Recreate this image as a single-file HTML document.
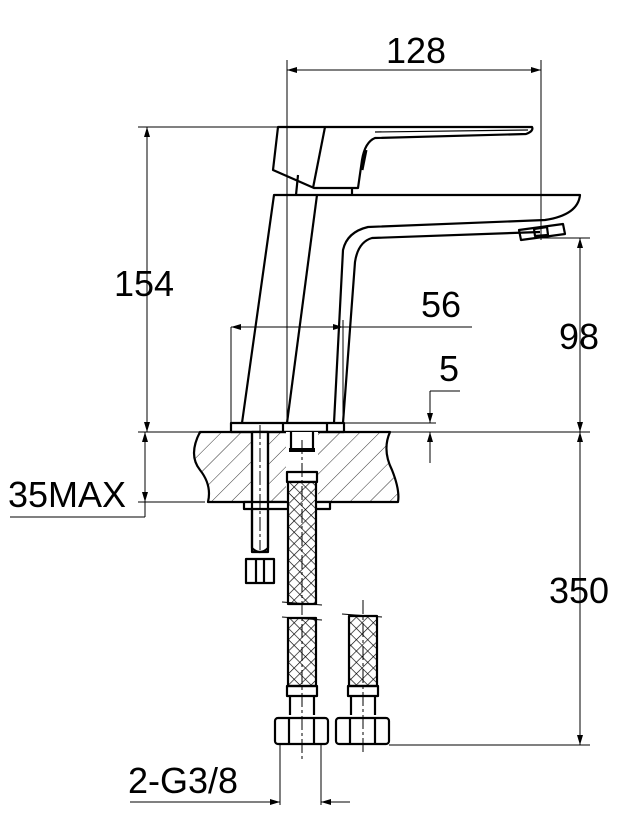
<!DOCTYPE html>
<html><head><meta charset="utf-8"><style>html,body{margin:0;padding:0;background:#fff}svg{display:block}</style></head>
<body>
<svg width="636" height="837" viewBox="0 0 636 837" xmlns="http://www.w3.org/2000/svg">
<defs>
<pattern id="h" width="14" height="14" patternUnits="userSpaceOnUse" patternTransform="rotate(45)">
<line x1="0" y1="0" x2="0" y2="14" stroke="#000" stroke-width="0.8"/></pattern>
<pattern id="x" width="8" height="8" patternUnits="userSpaceOnUse" patternTransform="rotate(45)">
<rect width="8" height="8" fill="#fff"/><line x1="0" y1="0" x2="0" y2="8" stroke="#000" stroke-width="1.3"/><line x1="0" y1="0" x2="8" y2="0" stroke="#000" stroke-width="1.3"/></pattern>
<marker id="a" viewBox="0 0 10 6" refX="10" refY="3" markerWidth="10" markerHeight="6" orient="auto-start-reverse" markerUnits="userSpaceOnUse"><path d="M0 0L10 3L0 6z" fill="#000"/></marker>
</defs>
<g fill="none" stroke="#000" stroke-width="1">
<line x1="287" y1="60" x2="287" y2="423"/><line x1="541" y1="60" x2="541" y2="240"/>
<line x1="287" y1="70" x2="541" y2="70" marker-start="url(#a)" marker-end="url(#a)"/>
<line x1="138" y1="127" x2="278" y2="127"/>
<line x1="147" y1="127" x2="147" y2="432" marker-start="url(#a)" marker-end="url(#a)"/>
<line x1="138" y1="432" x2="200" y2="432"/><line x1="138" y1="502" x2="205" y2="502"/>
<line x1="145" y1="432" x2="145" y2="517"/><line x1="145" y1="450" x2="145" y2="432" marker-end="url(#a)"/><line x1="145" y1="485" x2="145" y2="502" marker-end="url(#a)"/>
<line x1="10" y1="517" x2="145" y2="517"/>
<line x1="231" y1="327" x2="231" y2="423"/><line x1="343" y1="320" x2="343" y2="423"/>
<line x1="231" y1="327" x2="472" y2="327"/><line x1="250" y1="327" x2="231" y2="327" marker-end="url(#a)"/><line x1="325" y1="327" x2="343" y2="327" marker-end="url(#a)"/>
<line x1="344" y1="423" x2="436" y2="423"/>
<line x1="430" y1="391" x2="460" y2="391"/><line x1="430" y1="391" x2="430" y2="423" marker-end="url(#a)"/><line x1="430" y1="463" x2="430" y2="432" marker-end="url(#a)"/>
<line x1="390" y1="432" x2="590" y2="432"/>
<line x1="541" y1="238" x2="590" y2="238"/>
<line x1="580" y1="238" x2="580" y2="432" marker-start="url(#a)" marker-end="url(#a)"/>
<line x1="580" y1="432" x2="580" y2="745" marker-start="url(#a)" marker-end="url(#a)"/>
<line x1="389" y1="745" x2="590" y2="745"/>
<line x1="280" y1="745" x2="280" y2="805"/><line x1="321" y1="745" x2="321" y2="805"/>
<line x1="130" y1="802" x2="280" y2="802"/><line x1="260" y1="802" x2="280" y2="802" marker-end="url(#a)"/><line x1="350" y1="802" x2="321" y2="802" marker-end="url(#a)"/>
</g>
<g fill="none" stroke="#000" stroke-width="2.2" stroke-linejoin="round">
<path d="M278 127L532 127Q534 131 526 134L375 138Q365 142 362 160L358 188L314 188L273 170Z"/>
<path d="M325 127L313 188"/><path d="M298 175L296 195M352 188L352 195"/>
<path d="M375 132L528 130" stroke-width="1.2"/>
<path d="M366 150L362 170" stroke-width="3"/>
<path d="M242 423L274 195L580 195Q578 215 545 220L368 227Q347 232 343 250L334 423"/>
<path d="M317 195L287 423"/>
<path d="M540 232L372 238Q358 242 355 262L343 423"/>
<path d="M519 230L563 224L565 234L521 240Z"/><path d="M534 229L547 227L548 235L535 236Z"/>
<path d="M231 423H344V432H231Z"/><path d="M283 423V432M327 423V432"/>
<path d="M200 432H390Q382 450 392 470Q400 490 398 502H208Q212 485 200 470Q188 455 200 432Z" fill="url(#h)"/>
<rect x="252" y="432" width="16" height="120" fill="#fff"/>
<rect x="286" y="432" width="32" height="70" fill="#fff" stroke="none"/>
<path d="M244 502H330V509H244Z" fill="#fff"/>
<path d="M252 432V548Q260 556 268 548V432"/>
<rect x="246" y="559" width="28" height="24" fill="#fff"/><path d="M256 559V583M264 559V583"/>
<path d="M291 432V452M313 432V452"/><path d="M289 450H315" stroke-width="4"/>
<rect x="287" y="472" width="30" height="10"/>
<rect x="288" y="482" width="28" height="122" fill="url(#x)"/>
<rect x="288" y="618" width="28" height="68" fill="url(#x)"/>
<path d="M282 602L322 605M282 617L322 620" stroke-width="1"/>
<rect x="287" y="686" width="30" height="10"/><path d="M290 696V715M314 696V715"/>
<rect x="275" y="718" width="53" height="26" rx="3"/><path d="M289 718V744M314 718V744"/>
<rect x="349" y="616" width="28" height="70" fill="url(#x)"/>
<path d="M342 614L382 617" stroke-width="1"/>
<rect x="348" y="686" width="30" height="10"/><path d="M351 696V715M375 696V715"/>
<rect x="336" y="718" width="53" height="26" rx="3"/><path d="M350 718V744M375 718V744"/>
</g>
<g stroke="#000" stroke-width="1" stroke-dasharray="14 3 3 3"><line x1="302" y1="440" x2="302" y2="760"/><line x1="363" y1="600" x2="363" y2="755"/><line x1="260" y1="425" x2="260" y2="550"/></g>
<g font-family="Liberation Sans, sans-serif" font-size="36" fill="#000">
<text x="416" y="63" text-anchor="middle">128</text>
<text x="144" y="296" text-anchor="middle">154</text>
<text x="441" y="317" text-anchor="middle">56</text>
<text x="449" y="381" text-anchor="middle">5</text>
<text x="579" y="349" text-anchor="middle">98</text>
<text x="579" y="603" text-anchor="middle">350</text>
<text x="8" y="507">35MAX</text>
<text x="128" y="793">2-G3/8</text>
</g>
</svg>
</body></html>
